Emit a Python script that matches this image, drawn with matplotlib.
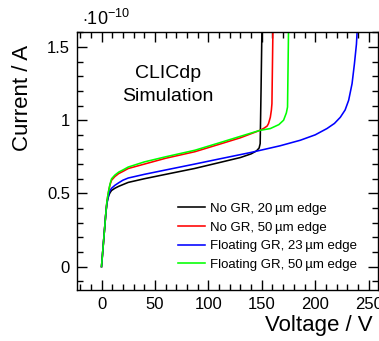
import matplotlib
matplotlib.use("Agg")
import matplotlib.pyplot as plt
from matplotlib.ticker import MultipleLocator

plt.rcParams["font.family"] = ["Liberation Sans", "DejaVu Sans"]
plt.rcParams["mathtext.fontset"] = "custom"
plt.rcParams["mathtext.rm"] = "Liberation Sans"
plt.rcParams["mathtext.it"] = "Liberation Sans:italic"

# current in units of 1e-10 A
labels = ["No GR, 20\u2009\u00b5m edge", "No GR, 50\u2009\u00b5m edge",
          "Floating GR, 23\u2009\u00b5m edge", "Floating GR, 50\u2009\u00b5m edge"]
colors = ["black", "#ff0000", "#0000ff", "#00ff00"]

v_black = [0, 1, 2, 3, 4, 5, 6, 7, 8, 9.4, 12.5, 16, 20, 25, 40, 60, 87, 110, 130, 140,
           145, 147.5, 148.5, 149.3, 150.1]
i_black = [0, 0.09, 0.18, 0.27, 0.36, 0.43, 0.465, 0.49, 0.505, 0.52, 0.535, 0.548, 0.56,
           0.575, 0.60, 0.63, 0.67, 0.71, 0.745, 0.77, 0.79, 0.81, 0.84, 1.2, 1.6]

v_red = [0, 1, 2, 3, 4, 5, 6, 7, 8, 9.4, 12.5, 16, 20, 25, 40, 60, 87.5, 110, 130, 148,
         152, 155, 156.3, 158, 159, 159.5, 160.4]
i_red = [0, 0.09, 0.18, 0.27, 0.36, 0.44, 0.49, 0.528, 0.56, 0.59, 0.615, 0.635, 0.65,
         0.67, 0.70, 0.74, 0.785, 0.835, 0.88, 0.93, 0.945, 0.96, 0.977, 1.02, 1.07, 1.113,
         1.6]

v_blue = [0, 1, 2, 3, 4, 5, 6, 7, 8, 9.4, 12.5, 16, 20, 25, 40, 60, 87, 110, 140, 167, 186,
          200, 211, 218, 223.5, 228, 231.3, 234.5, 236.7, 238.6, 239.2]
i_blue = [0, 0.09, 0.18, 0.27, 0.36, 0.43, 0.47, 0.50, 0.52, 0.535, 0.555, 0.572, 0.59,
          0.605, 0.63, 0.66, 0.70, 0.735, 0.78, 0.825, 0.863, 0.9, 0.943, 0.978, 1.02, 1.07,
          1.136, 1.25, 1.385, 1.52, 1.6]

v_green = [0, 1, 2, 3, 4, 5, 6, 7, 8, 9.4, 12.5, 16, 20, 25, 40, 60, 87.5, 110, 130, 148,
           158, 166, 170.4, 173, 174.1, 175]
i_green = [0, 0.09, 0.18, 0.27, 0.36, 0.44, 0.49, 0.53, 0.565, 0.60, 0.625, 0.645, 0.66,
           0.68, 0.715, 0.75, 0.795, 0.845, 0.89, 0.93, 0.943, 0.97, 1.0, 1.05, 1.09, 1.6]

fig = plt.figure(figsize=(3.79, 3.41), dpi=100)
ax = fig.add_axes([0.203, 0.1496, 0.795, 0.7554])

series = [(v_black, i_black), (v_red, i_red), (v_blue, i_blue), (v_green, i_green)]
for (v, i), lab, col in zip(series, labels, colors):
    ax.plot(v, i, color=col, lw=1.15, label=lab)

ax.set_xlim(-23, 259)
ax.set_ylim(-0.16, 1.6)
ax.xaxis.set_major_locator(MultipleLocator(50))
ax.xaxis.set_minor_locator(MultipleLocator(10))
ax.yaxis.set_major_locator(MultipleLocator(0.5))
ax.yaxis.set_minor_locator(MultipleLocator(0.1))
ax.yaxis.set_major_formatter(plt.FuncFormatter(lambda y, p: "%g" % y))
ax.tick_params(which="both", direction="in", top=True, right=True, width=1.0,
               labelsize=12)
ax.tick_params(which="major", length=7)
ax.tick_params(which="minor", length=4)
ax.tick_params(axis="x", pad=5)
ax.tick_params(axis="y", pad=5)
for s in ax.spines.values():
    s.set_linewidth(1.0)

ax.set_xlabel("Voltage / V", fontsize=16, loc="right")
ax.xaxis.set_label_coords(0.983, -0.136)
ax.xaxis.label.set_va("center")
ax.set_ylabel("Current / A", fontsize=16, loc="top")
ax.yaxis.set_label_coords(-0.181, 0.95)
ax.yaxis.label.set_va("center")

fig.text(0.216, 0.927, r"$\cdot10^{-10}$", fontsize=13, ha="left", va="baseline")

ax.text(0.302, 0.796, "CLICdp\nSimulation", transform=ax.transAxes, fontsize=14,
        ha="center", va="center", linespacing=1.45)

ax.legend(loc="upper left", bbox_to_anchor=(0.3355, 0.339), frameon=False, fontsize=9.5,
          handlelength=2.05, handletextpad=0.4, labelspacing=0.49, borderaxespad=0.0,
          borderpad=0.0)

fig.savefig("out.png", dpi=100)
